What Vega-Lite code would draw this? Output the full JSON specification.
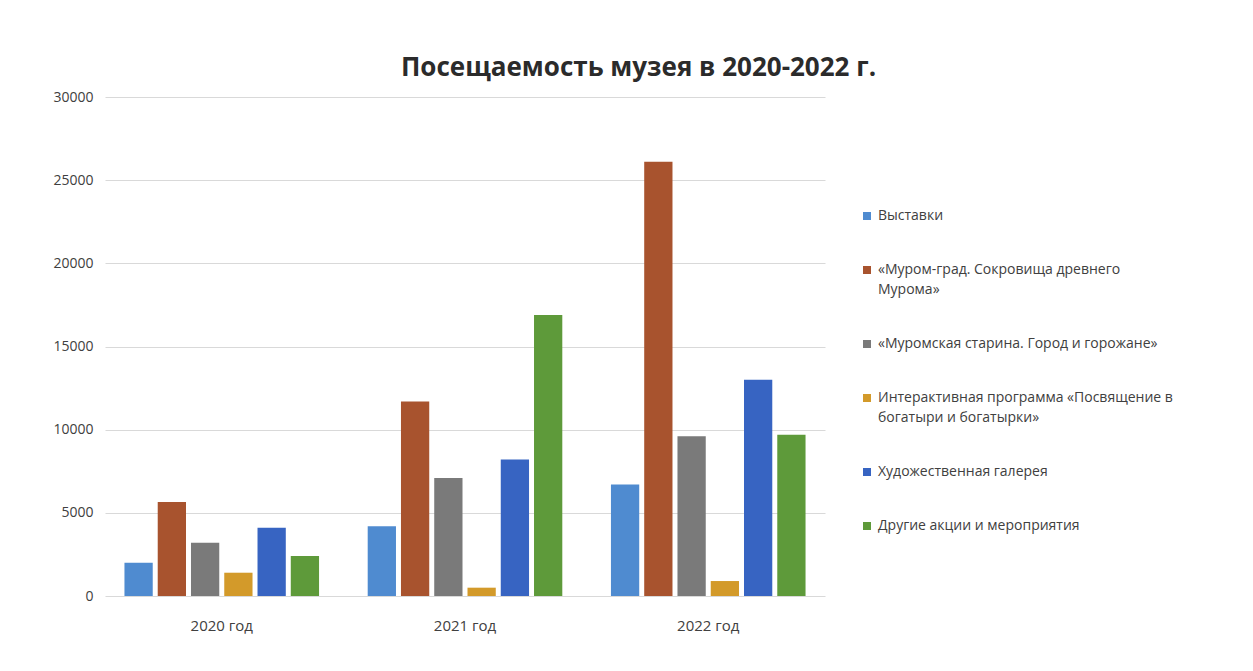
{
  "$schema": "https://vega.github.io/schema/vega-lite/v6.json",
  "autosize": "none",
  "width": 720,
  "height": 499,
  "padding": {"left": 105, "top": 97, "right": 428, "bottom": 75},
  "background": "#ffffff",
  "title": {
    "text": "Посещаемость музея в 2020-2022 г.",
    "anchor": "start",
    "dx": 348,
    "offset": 9,
    "fontSize": 26,
    "font": "Open Sans",
    "fontWeight": "bold",
    "color": "#2b2b2b"
  },
  "data": {
    "values": [
      {"year": "2020 год", "cat": "Выставки", "v": 2000},
      {"year": "2020 год", "cat": "«Муром-град. Сокровища древнего Мурома»", "v": 5650},
      {"year": "2020 год", "cat": "«Муромская старина. Город и горожане»", "v": 3200},
      {"year": "2020 год", "cat": "Интерактивная программа «Посвящение в богатыри и богатырки»", "v": 1400},
      {"year": "2020 год", "cat": "Художественная галерея", "v": 4100},
      {"year": "2020 год", "cat": "Другие акции и мероприятия", "v": 2400},
      {"year": "2021 год", "cat": "Выставки", "v": 4200},
      {"year": "2021 год", "cat": "«Муром-град. Сокровища древнего Мурома»", "v": 11700},
      {"year": "2021 год", "cat": "«Муромская старина. Город и горожане»", "v": 7100},
      {"year": "2021 год", "cat": "Интерактивная программа «Посвящение в богатыри и богатырки»", "v": 500},
      {"year": "2021 год", "cat": "Художественная галерея", "v": 8200},
      {"year": "2021 год", "cat": "Другие акции и мероприятия", "v": 16900},
      {"year": "2022 год", "cat": "Выставки", "v": 6700},
      {"year": "2022 год", "cat": "«Муром-град. Сокровища древнего Мурома»", "v": 26100},
      {"year": "2022 год", "cat": "«Муромская старина. Город и горожане»", "v": 9600},
      {"year": "2022 год", "cat": "Интерактивная программа «Посвящение в богатыри и богатырки»", "v": 900},
      {"year": "2022 год", "cat": "Художественная галерея", "v": 13000},
      {"year": "2022 год", "cat": "Другие акции и мероприятия", "v": 9700}
    ]
  },
  "mark": {"type": "bar"},
  "encoding": {
    "x": {
      "field": "year",
      "type": "nominal",
      "sort": null,
      "scale": {"paddingInner": 0.2, "paddingOuter": 0.08},
      "axis": {
        "title": null,
        "labelAngle": 0,
        "domain": false,
        "ticks": false,
        "labelFontSize": 15,
        "labelFont": "Open Sans",
        "labelColor": "#404040",
        "labelPadding": 22
      }
    },
    "xOffset": {
      "field": "cat",
      "type": "nominal",
      "sort": null,
      "scale": {"paddingInner": 0.15}
    },
    "y": {
      "field": "v",
      "type": "quantitative",
      "scale": {"domain": [0, 30000]},
      "axis": {
        "title": null,
        "values": [0, 5000, 10000, 15000, 20000, 25000, 30000],
        "format": "d",
        "domain": false,
        "ticks": false,
        "labelFontSize": 14,
        "labelFont": "Open Sans",
        "labelColor": "#404040",
        "labelPadding": 12,
        "gridColor": "#d9d9d9",
        "gridWidth": 1
      }
    },
    "color": {
      "field": "cat",
      "type": "nominal",
      "sort": null,
      "scale": {
        "domain": [
          "Выставки",
          "«Муром-град. Сокровища древнего Мурома»",
          "«Муромская старина. Город и горожане»",
          "Интерактивная программа «Посвящение в богатыри и богатырки»",
          "Художественная галерея",
          "Другие акции и мероприятия"
        ],
        "range": ["#4f8bd0", "#a8532e", "#7a7a7a", "#d39a2a", "#3764c2", "#5e9a3a"]
      },
      "legend": {
        "title": null,
        "orient": "none",
        "legendX": 755,
        "legendY": 112,
        "symbolType": "square",
        "symbolSize": 64,
        "symbolStrokeWidth": 0,
        "labelFontSize": 14,
        "labelFont": "Open Sans",
        "labelColor": "#404040",
        "labelLimit": 400,
        "rowPadding": 40,
        "labelExpr": "datum.label == '«Муром-град. Сокровища древнего Мурома»' ? ['«Муром-град. Сокровища древнего', 'Мурома»'] : datum.label == 'Интерактивная программа «Посвящение в богатыри и богатырки»' ? ['Интерактивная программа «Посвящение в', 'богатыри и богатырки»'] : datum.label"
      }
    }
  },
  "config": {
    "view": {"stroke": null},
    "style": {"guide-label": {"lineHeight": 20}}
  }
}
